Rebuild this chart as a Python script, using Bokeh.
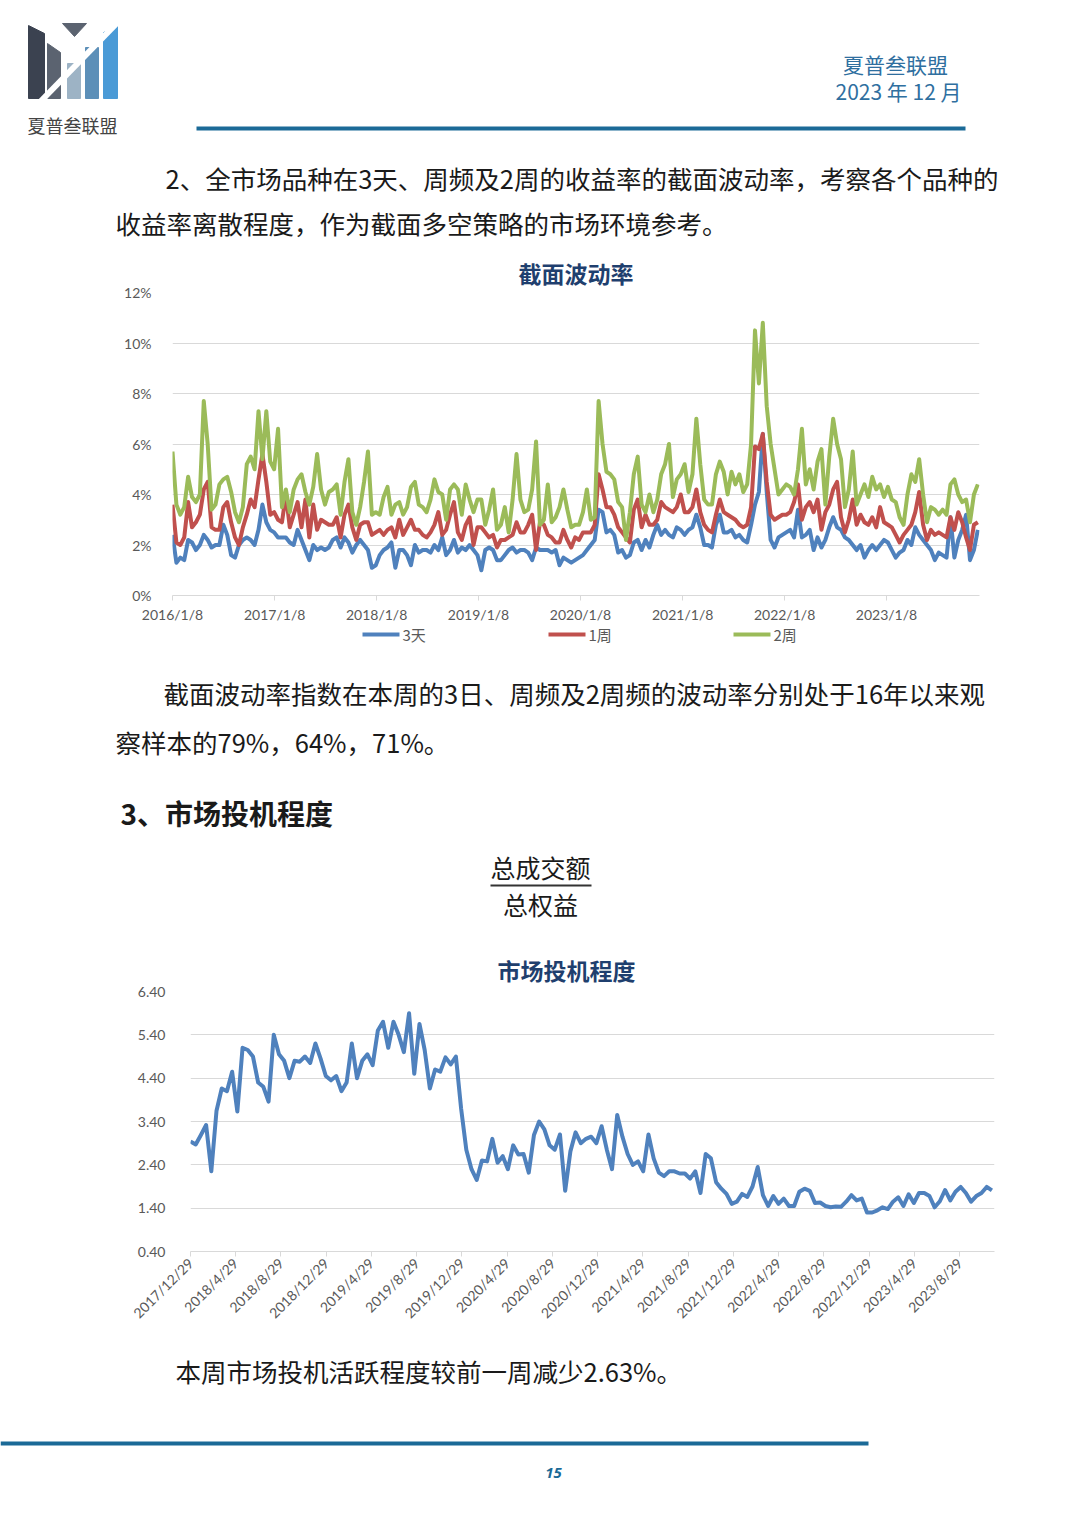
import math
import pandas as pd
from bokeh.plotting import figure
from bokeh.models import (Range1d, Label, FixedTicker, PrintfTickFormatter,
                          NumeralTickFormatter, Title)
from bokeh.layouts import column
from bokeh.embed import file_html
from bokeh.resources import INLINE

# ---------------- data ----------------
vol_start = "2016-01-08"
vol_step_days = 14
vol_3d = [2.4,1.3,1.5,1.4,2.2,2.1,1.8,2.0,2.4,2.2,1.9,2.0,2.0,2.8,2.4,1.6,1.5,2.0,2.2,2.3,2.2,2.0,2.6,3.6,2.9,2.6,
          2.5,2.3,2.3,2.3,2.1,2.0,2.6,2.2,1.8,1.4,2.0,1.8,1.9,1.8,1.9,2.2,2.3,1.9,2.3,2.1,1.7,2.0,2.2,2.0,1.8,1.1,
          1.2,1.6,1.8,1.9,2.1,1.1,1.8,1.8,1.6,1.2,2.0,1.7,1.8,1.8,1.7,2.0,1.8,2.3,1.6,1.8,2.2,1.7,1.9,1.8,2.0,1.8,
          1.6,1.0,1.8,1.9,1.8,1.4,1.4,1.6,1.8,1.9,1.7,1.8,1.8,1.7,1.4,1.9,1.8,1.8,1.8,1.7,1.8,1.2,1.5,1.4,1.3,1.4,
          1.5,1.6,1.8,2.0,2.2,3.4,3.3,2.5,2.6,2.4,1.7,1.8,1.5,1.6,2.1,2.2,1.8,2.2,1.9,2.4,2.8,2.4,2.6,2.4,2.3,2.7,
          2.6,2.4,2.6,2.7,3.2,2.7,2.0,2.0,1.9,2.8,3.2,2.5,2.5,2.6,2.3,2.4,2.2,2.1,2.8,3.6,4.1,6.4,4.1,2.2,1.9,2.3,
          2.4,2.5,2.6,2.3,3.4,2.3,2.4,2.6,1.8,2.3,1.9,2.2,2.7,3.1,2.7,2.6,2.3,2.2,2.0,1.8,2.0,1.5,1.8,2.0,1.8,2.0,
          2.2,2.1,1.8,1.5,1.7,1.8,2.2,2.0,2.7,2.4,2.2,2.0,1.8,1.4,1.7,1.6,1.5,3.1,1.5,2.2,2.6,3.2,1.4,1.8,2.6]
vol_1w = [3.6,2.1,2.0,2.3,3.7,2.7,2.9,3.2,4.2,4.5,2.7,2.6,2.6,3.5,3.7,2.9,2.3,2.0,2.7,3.2,3.8,3.5,4.6,5.6,4.5,3.2,
          3.3,3.0,2.9,4.0,2.7,3.2,3.7,2.7,3.8,2.3,3.6,2.6,3.0,2.9,2.8,2.8,3.1,2.3,3.2,3.6,2.7,2.2,2.8,2.9,2.9,2.4,
          2.5,2.6,2.4,2.6,2.7,2.3,3.0,2.4,2.7,3.0,2.6,2.6,2.4,2.3,2.5,2.8,3.3,2.4,2.6,3.2,3.7,2.5,2.2,2.8,3.1,2.0,
          2.7,2.7,2.5,2.3,2.4,1.9,2.2,2.2,2.3,2.4,2.9,2.5,2.5,2.8,3.2,1.8,2.9,2.8,2.4,2.3,2.1,2.1,2.6,2.2,1.9,2.3,
          2.2,2.5,2.5,2.5,2.8,4.8,4.2,3.5,3.5,3.2,2.7,2.5,2.3,2.1,3.4,3.8,2.7,3.2,2.8,2.8,3.0,3.7,3.5,3.4,3.3,3.5,
          4.0,3.3,3.3,3.5,4.2,3.3,2.8,2.6,2.5,3.2,3.8,3.3,3.2,3.1,3.0,2.8,2.7,2.8,3.5,5.9,5.8,6.4,4.5,3.2,3.0,3.1,
          3.2,3.2,3.3,3.7,4.4,3.0,3.5,3.7,3.3,3.8,2.6,3.3,3.6,4.2,4.5,3.1,2.5,3.0,3.8,2.8,3.2,2.9,2.8,3.1,2.7,3.5,
          2.9,2.8,2.7,2.4,2.1,2.4,2.6,2.8,3.3,4.1,2.8,2.2,2.6,2.4,2.5,2.4,2.3,3.1,2.6,3.3,2.9,2.3,1.8,2.8,2.9]
vol_2w = [5.7,3.6,3.2,3.5,4.7,3.9,3.7,4.0,7.7,6.0,3.4,3.6,4.4,4.6,4.7,4.1,3.3,2.9,3.5,5.2,5.5,5.0,7.3,5.4,7.3,5.3,
          5.0,6.6,3.5,4.2,3.3,4.2,4.6,4.8,4.1,3.6,4.3,5.6,4.2,3.6,4.1,4.2,4.4,3.2,4.5,5.4,3.3,2.8,3.5,4.5,5.7,3.2,
          3.3,3.2,3.9,4.3,3.2,3.6,3.7,3.2,3.5,4.3,4.5,3.6,3.5,3.3,3.8,4.6,4.1,4.0,3.0,4.2,4.4,4.2,3.2,4.4,3.8,3.3,
          3.8,3.8,2.8,3.4,4.2,2.6,2.8,3.5,2.5,3.8,5.6,3.8,3.3,3.4,4.2,6.1,2.8,3.0,4.4,2.9,3.1,3.5,4.2,3.4,2.7,2.8,
          2.8,3.3,4.2,3.0,3.1,7.7,6.0,4.9,4.8,4.6,3.7,3.5,2.2,3.3,4.8,5.5,3.6,3.3,4.0,3.3,3.8,4.8,5.2,6.0,3.9,4.6,
          4.8,5.2,4.1,4.8,7.0,5.2,3.8,3.6,3.6,4.8,5.3,4.9,4.0,4.9,4.4,4.8,4.1,4.4,6.0,10.5,8.4,10.8,7.5,6.0,5.0,4.0,
          4.2,4.4,4.3,4.0,5.0,6.6,4.4,5.0,4.2,5.3,5.8,3.6,5.5,7.0,6.0,5.4,3.5,4.2,5.7,3.6,4.0,4.4,3.9,4.7,4.2,4.4,
          3.9,4.3,3.8,3.7,3.1,2.8,4.0,4.8,4.5,5.4,4.0,2.9,3.5,3.4,3.2,3.4,3.2,4.4,4.6,4.0,3.7,3.8,2.9,4.0,4.4]
vol_tick_labels = ["2016/1/8", "2017/1/8", "2018/1/8", "2019/1/8",
                   "2020/1/8", "2021/1/8", "2022/1/8", "2023/1/8"]
vol_y_ticks = [0, 2, 4, 6, 8, 10, 12]
vol_series_names = ["3天", "1周", "2周"]

spec_start = "2017-12-29"
spec_step_days = 14
spec_values = [2.94,2.87,3.09,3.32,2.25,3.65,4.16,4.10,4.55,3.63,5.10,5.05,4.90,4.30,4.20,3.86,5.40,4.95,4.80,4.40,
               4.80,4.78,4.90,4.75,5.20,4.85,4.45,4.35,4.45,4.10,4.30,5.20,4.40,4.80,4.95,4.70,5.50,5.70,5.10,5.70,
               5.40,5.00,5.90,4.50,5.65,5.05,4.16,4.60,4.55,4.88,4.72,4.90,3.70,2.75,2.30,2.05,2.50,2.48,3.00,2.45,
               2.60,2.30,2.85,2.64,2.65,2.22,3.09,3.40,3.22,2.85,2.75,3.10,1.80,2.71,3.15,2.90,3.00,3.05,2.90,3.29,
               2.75,2.30,3.55,3.05,2.65,2.40,2.48,2.25,3.10,2.55,2.22,2.14,2.25,2.25,2.20,2.20,2.08,2.25,1.75,2.65,
               2.55,2.00,1.85,1.73,1.50,1.55,1.73,1.66,1.90,2.35,1.70,1.45,1.68,1.50,1.62,1.45,1.45,1.78,1.85,1.80,
               1.52,1.53,1.45,1.42,1.44,1.43,1.55,1.70,1.58,1.62,1.30,1.30,1.35,1.42,1.38,1.55,1.65,1.45,1.72,1.52,
               1.75,1.75,1.68,1.42,1.56,1.82,1.58,1.78,1.89,1.75,1.55,1.68,1.75,1.89,1.81]
spec_tick_labels = ["2017/12/29", "2018/4/29", "2018/8/29", "2018/12/29", "2019/4/29", "2019/8/29",
                    "2019/12/29", "2020/4/29", "2020/8/29", "2020/12/29", "2021/4/29", "2021/8/29",
                    "2021/12/29", "2022/4/29", "2022/8/29", "2022/12/29", "2023/4/29", "2023/8/29"]
spec_y_ticks = [0.40, 1.40, 2.40, 3.40, 4.40, 5.40, 6.40]

# ---------------- styles ----------------
W = 1064
CJK = "Noto Sans CJK SC"
NUM = "Lato"
BODY = "#1a1a1a"
NAVY = "#1f3f6e"
RULE = "#1b6a97"
TICK = "#595959"
GRID = "#d9d9d9"
SERIES_COLORS = ["#4f81bd", "#c0504d", "#9bbb59"]
BODY_SIZE = 25.5


def canvas(h):
    f = figure(width=W, height=h, x_range=Range1d(0, W), y_range=Range1d(h, 0),
               output_backend="svg", toolbar_location=None, min_border=0,
               x_axis_type=None, y_axis_type=None, frame_align=False)
    f.outline_line_color = None
    f.xgrid.visible = False
    f.ygrid.visible = False
    return f


def text(f, x, y, s, size, color=BODY, align="left", style="normal", font=CJK):
    f.add_layout(Label(x=x, y=y, text=s, text_font=font, text_font_size=f"{size}px",
                       text_color=color, text_align=align, text_baseline="middle",
                       text_font_style=style))


def chart_title(s, align, offset, standoff):
    return Title(text=s, align=align, text_font=CJK, text_font_size="23px",
                 text_font_style="bold", text_color=NAVY, standoff=standoff, offset=offset)


# ---------------- header (page y 0-250) ----------------
f1 = canvas(250)
f1.patch([28, 44, 44, 28], [25, 33, 98, 98], color="#3b4250")
f1.patch([47, 60, 60, 47], [43, 52, 98, 98], color="#5b6370")
f1.patch([62, 86, 74], [23, 23, 36], color="#5b6370")
f1.patch([67, 80, 80, 67], [63, 63, 98, 98], color="#9db3c5")
f1.patch([85, 98, 98, 85], [47, 47, 98, 98], color="#5c8fb8")
f1.patch([103, 117, 117, 103], [32, 25, 98, 98], color="#4a9ad6")
f1.line([40, 117], [101, 22], line_color="white", line_width=6)
text(f1, 72, 124, "夏普叁联盟", 18, color="#444444", align="center")
text(f1, 895, 63, "夏普叁联盟", 21, color="#2f6f9f", align="center")
text(f1, 898, 90, "2023 年 12 月", 21, color="#2f6f9f", align="center")
f1.line([196, 965], [128, 128], line_color=RULE, line_width=4)
text(f1, 165, 177, "2、全市场品种在3天、周频及2周的收益率的截面波动率，考察各个品种的", BODY_SIZE)
text(f1, 115, 222, "收益率离散程度，作为截面多空策略的市场环境参考。", BODY_SIZE)

# ---------------- chart 1 (page y 250-625) ----------------
d0 = pd.Timestamp(vol_start)
vol_x = [(d - d0).days for d in pd.date_range(d0, periods=len(vol_3d), freq=f"{vol_step_days}D")]
vol_ticks = [(pd.Timestamp(s) - d0).days for s in vol_tick_labels]

c1 = figure(width=W, height=375, x_range=Range1d(0, 2890), y_range=Range1d(0, 12),
            output_backend="svg", toolbar_location=None, frame_align=False,
            title=chart_title("截面波动率", "center", 0, 6),
            min_border_left=172, min_border_right=85, min_border_top=37, min_border_bottom=29)
c1.outline_line_color = None
c1.xgrid.visible = False
c1.ygrid.grid_line_color = GRID
c1.ygrid.ticker = FixedTicker(ticks=vol_y_ticks)
for vals, col in zip([vol_3d, vol_1w, vol_2w], SERIES_COLORS):
    c1.line(vol_x, vals, line_color=col, line_width=4, line_join="round")

c1.yaxis.ticker = FixedTicker(ticks=vol_y_ticks)
c1.yaxis.formatter = PrintfTickFormatter(format="%d%%")
c1.yaxis.axis_line_color = None
c1.yaxis.major_tick_line_color = None
c1.yaxis.minor_tick_line_color = None
c1.yaxis.major_label_standoff = 15
c1.xaxis.ticker = FixedTicker(ticks=vol_ticks)
c1.xaxis.major_label_overrides = {t: s for t, s in zip(vol_ticks, vol_tick_labels)}
c1.xaxis.axis_line_color = GRID
c1.xaxis.major_tick_line_color = GRID
c1.xaxis.major_tick_in = 0
c1.xaxis.major_tick_out = 5
c1.xaxis.minor_tick_line_color = None
c1.xaxis.major_label_standoff = 5
for ax in (c1.xaxis, c1.yaxis):
    ax.major_label_text_font = NUM
    ax.major_label_text_font_size = "14px"
    ax.major_label_text_color = TICK

# ---------------- middle (page y 625-945) ----------------
f2 = canvas(320)
legend_x = [362, 548, 733]
for name, col, lx in zip(vol_series_names, SERIES_COLORS, legend_x):
    f2.line([lx, lx + 37], [9, 9], line_color=col, line_width=4)
    text(f2, lx + 40, 9, name, 15, color=TICK, font=CJK)
text(f2, 163, 67, "截面波动率指数在本周的3日、周频及2周频的波动率分别处于16年以来观", BODY_SIZE)
text(f2, 115, 116, "察样本的79%，64%，71%。", BODY_SIZE)
text(f2, 120, 187, "3、市场投机程度", 28, style="bold")
text(f2, 540, 241, "总成交额", 25, align="center")
f2.line([490, 591], [260, 260], line_color="#333333", line_width=2)
text(f2, 540, 278, "总权益", 25, align="center")

# ---------------- chart 2 (page y 945-1345) ----------------
s0 = pd.Timestamp(spec_start)
spec_x = [(d - s0).days for d in pd.date_range(s0, periods=len(spec_values), freq=f"{spec_step_days}D")]
spec_ticks = [(pd.Timestamp(s) - s0).days for s in spec_tick_labels]

c2 = figure(width=W, height=400, x_range=Range1d(0, 2163), y_range=Range1d(0.40, 6.40),
            output_backend="svg", toolbar_location=None, frame_align=False,
            title=chart_title("市场投机程度", "left", 307, 10),
            min_border_left=190, min_border_right=70, min_border_top=44, min_border_bottom=94)
c2.outline_line_color = None
c2.xgrid.visible = False
c2.ygrid.grid_line_color = GRID
c2.ygrid.ticker = FixedTicker(ticks=spec_y_ticks)
c2.line(spec_x, spec_values, line_color=SERIES_COLORS[0], line_width=4, line_join="round")
c2.yaxis.ticker = FixedTicker(ticks=spec_y_ticks)
c2.yaxis.formatter = NumeralTickFormatter(format="0.00")
c2.yaxis.axis_line_color = None
c2.yaxis.major_tick_line_color = None
c2.yaxis.minor_tick_line_color = None
c2.yaxis.major_label_standoff = 19
c2.xaxis.ticker = FixedTicker(ticks=spec_ticks)
c2.xaxis.major_label_overrides = {t: s for t, s in zip(spec_ticks, spec_tick_labels)}
c2.xaxis.major_label_orientation = math.pi / 4
c2.xaxis.axis_line_color = GRID
c2.xaxis.major_tick_line_color = GRID
c2.xaxis.major_tick_in = 0
c2.xaxis.major_tick_out = 5
c2.xaxis.minor_tick_line_color = None
c2.xaxis.major_label_standoff = 4
for ax in (c2.xaxis, c2.yaxis):
    ax.major_label_text_font = NUM
    ax.major_label_text_font_size = "14px"
    ax.major_label_text_color = TICK

# ---------------- footer (page y 1345-1520) ----------------
f3 = canvas(175)
text(f3, 175, 25, "本周市场投机活跃程度较前一周减少2.63%。", BODY_SIZE)
f3.line([0, 868], [98, 98], line_color=RULE, line_width=4)
text(f3, 553, 127, "15", 15, color=RULE, align="center", style="bold italic", font="Open Sans")

page = column(f1, c1, f2, c2, f3, spacing=0)
open("out.html", "w").write(file_html(page, INLINE))
